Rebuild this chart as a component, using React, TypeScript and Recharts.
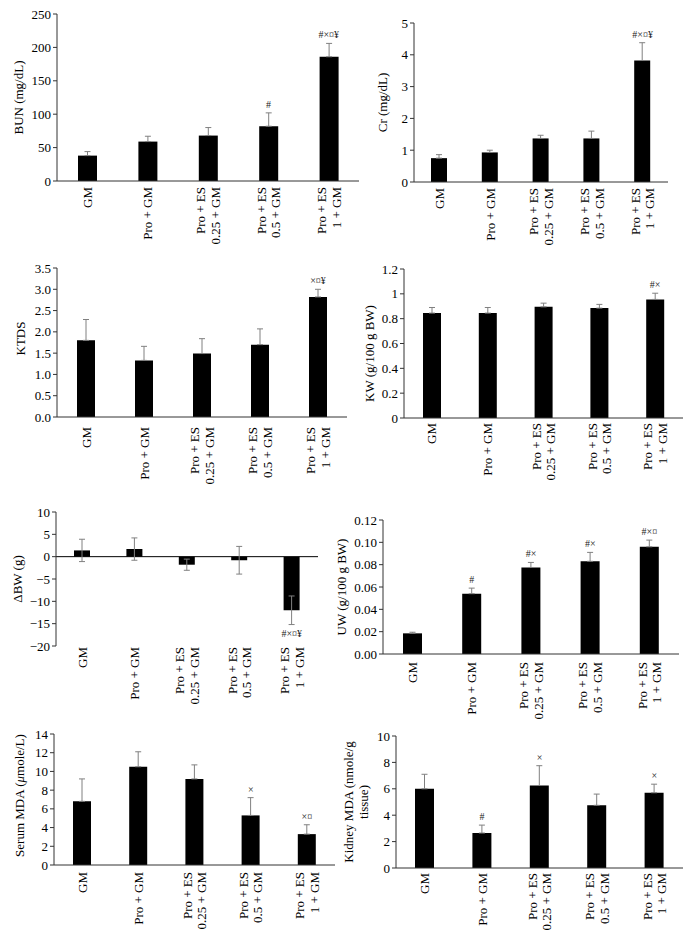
import { Bar, BarChart, ErrorBar, ReferenceDot, ReferenceLine, XAxis, YAxis } from "recharts";

const FONT = "'Liberation Serif', 'Times New Roman', serif";
const AXIS = "#333";
const WHISKER = "#808080";

const categories = ["GM", "Pro + GM", "Pro + ES\n0.25 + GM", "Pro + ES\n0.5 + GM", "Pro + ES\n1 + GM"];

const bunMean = [38, 59, 68, 82, 186];
const bunErr = [6, 8, 12, 20, 20];
const bunMarks = ["", "", "", "#", "#×¤¥"];

const crMean = [0.75, 0.93, 1.37, 1.37, 3.82];
const crErr = [0.11, 0.07, 0.1, 0.23, 0.56];
const crMarks = ["", "", "", "", "#×¤¥"];

const ktdsMean = [1.8, 1.33, 1.49, 1.7, 2.82];
const ktdsErr = [0.49, 0.33, 0.35, 0.37, 0.18];
const ktdsMarks = ["", "", "", "", "×¤¥"];

const kwMean = [0.845, 0.845, 0.895, 0.885, 0.955];
const kwErr = [0.045, 0.045, 0.03, 0.03, 0.05];
const kwMarks = ["", "", "", "", "#×"];

const bwMean = [1.4, 1.7, -1.8, -0.8, -12];
const bwErr = [2.5, 2.5, 1.25, 3.1, 3.2];
const bwMarks = ["", "", "", "", "#×¤¥"];

const uwMean = [0.0185, 0.054, 0.0775, 0.083, 0.096];
const uwErr = [0.001, 0.005, 0.0045, 0.008, 0.006];
const uwMarks = ["", "#", "#×", "#×", "#×¤"];

const serumMean = [6.8, 10.5, 9.2, 5.3, 3.3];
const serumErr = [2.4, 1.6, 1.5, 1.9, 1.0];
const serumMarks = ["", "", "", "×", "×¤"];

const kidneyMean = [6.0, 2.65, 6.25, 4.75, 5.7];
const kidneyErr = [1.1, 0.6, 1.5, 0.85, 0.65];
const kidneyMarks = ["", "#", "×", "", "×"];

const bunTicks = [0, 50, 100, 150, 200, 250];
const crTicks = [0, 1, 2, 3, 4, 5];
const ktdsTicks = [0, 0.5, 1, 1.5, 2, 2.5, 3, 3.5];
const kwTicks = [0, 0.2, 0.4, 0.6, 0.8, 1, 1.2];
const bwTicks = [-20, -15, -10, -5, 0, 5, 10];
const uwTicks = [0, 0.02, 0.04, 0.06, 0.08, 0.1, 0.12];
const serumTicks = [0, 2, 4, 6, 8, 10, 12, 14];
const kidneyTicks = [0, 2, 4, 6, 8, 10];

interface PanelSpec {
  box: [number, number, number, number];
  plot: [number, number, number, number];
  mean: number[];
  err: number[];
  marks: string[];
  both?: boolean;
  ticks: number[];
  fmt?: (v: number) => string;
  title: string[];
  titleX: number;
  titleDy?: number;
  barSize: number;
  gap: number;
}

const panels: PanelSpec[] = [
  { box: [0, 0, 362, 252], plot: [57, 14, 359, 181], mean: bunMean, err: bunErr, marks: bunMarks, ticks: bunTicks, title: ["BUN (mg/dL)"], titleX: 18, barSize: 19, gap: 6 },
  { box: [346, 0, 346, 252], plot: [414, 23, 668, 182], mean: crMean, err: crErr, marks: crMarks, ticks: crTicks, title: ["Cr (mg/dL)"], titleX: 382, barSize: 16, gap: 6 },
  { box: [0, 252, 350, 250], plot: [57, 268, 347, 417], mean: ktdsMean, err: ktdsErr, marks: ktdsMarks, ticks: ktdsTicks, fmt: (v) => v.toFixed(1), title: ["KTDS"], titleX: 20, titleDy: -4, barSize: 18, gap: 10 },
  { box: [346, 252, 346, 250], plot: [404, 269, 683, 418], mean: kwMean, err: kwErr, marks: kwMarks, ticks: kwTicks, title: ["KW (g/100 g BW)"], titleX: 369, titleDy: 10, barSize: 18, gap: 5 },
  { box: [0, 500, 330, 225], plot: [56, 512, 318, 646], mean: bwMean, err: bwErr, marks: bwMarks, both: true, ticks: bwTicks, fmt: (v) => String(v).replace("-", "\u2212"), title: ["\u0394BW (g)"], titleX: 17, barSize: 16, gap: 1 },
  { box: [330, 500, 362, 225], plot: [383, 520, 679, 654], mean: uwMean, err: uwErr, marks: uwMarks, ticks: uwTicks, fmt: (v) => v.toFixed(2), title: ["UW (g/100 g BW)"], titleX: 341, barSize: 19, gap: 8 },
  { box: [0, 725, 346, 215], plot: [54, 734, 335, 865], mean: serumMean, err: serumErr, marks: serumMarks, ticks: serumTicks, title: ["Serum MDA (μmole/L)"], titleX: 19, titleDy: -4, barSize: 18, gap: 7 },
  { box: [330, 725, 362, 215], plot: [396, 736, 683, 868], mean: kidneyMean, err: kidneyErr, marks: kidneyMarks, ticks: kidneyTicks, title: ["Kidney MDA (nmole/g", "tissue)"], titleX: 356, barSize: 19, gap: 5 },
];

function CatTick(props: any) {
  const { x, y, payload, gap } = props;
  const lines = String(payload.value).split("\n");
  const lh = 14.5;
  return (
    <g transform={`translate(${x},${y + gap})`}>
      <text transform="rotate(-90)" textAnchor="end" fontSize={13} fontFamily={FONT} fill="#000">
        {lines.map((l, i) => (
          <tspan key={i} x={0} dy={i === 0 ? -((lines.length - 1) / 2) * lh + 4.5 : lh}>
            {l}
          </tspan>
        ))}
      </text>
    </g>
  );
}

function Title({ vb, lines, x, dy }: any) {
  const cy = vb.y + vb.height / 2 + dy;
  const lh = 15;
  return (
    <text transform={`translate(${x},${cy}) rotate(-90)`} textAnchor="middle" fontSize={13} fontFamily={FONT} fill="#000">
      {lines.map((l: string, i: number) => (
        <tspan key={i} x={0} dy={i === 0 ? -((lines.length - 1) / 2) * lh + 4.5 : lh}>
          {l.split(/(μ)/).map((seg, j) =>
            seg === "μ" ? (
              <tspan key={j} fontStyle="italic">μ</tspan>
            ) : (
              seg
            )
          )}
        </tspan>
      ))}
    </text>
  );
}

// significance marks sit just above (or below, for negative bars) the whisker end
function Mark({ viewBox, text, below }: any) {
  const cx = viewBox.x + viewBox.width / 2;
  const cy = viewBox.y + viewBox.height / 2;
  return (
    <text x={cx} y={below ? cy + 12 : cy - 5} textAnchor="middle" fontSize={10} fontFamily={FONT} fill="#222">
      {text}
    </text>
  );
}

function Panel({ s }: { s: PanelSpec }) {
  const [left, top, width, height] = s.box;
  const [x0, y0, x1, y1] = s.plot;
  const rows = categories.map((name, i) => ({
    name,
    mean: s.mean[i],
    err: s.both ? s.err[i] : [0, s.err[i]],
    tip: s.mean[i] + (s.mean[i] < 0 ? -s.err[i] : s.err[i]),
    mark: s.marks[i],
  }));
  const lo = s.ticks[0];
  const hi = s.ticks[s.ticks.length - 1];
  return (
    <div style={{ position: "absolute", left, top }}>
      <BarChart
        width={width}
        height={height}
        data={rows}
        margin={{ top: y0 - top, right: left + width - x1, bottom: 0, left: 0 }}
      >
        <XAxis
          dataKey="name"
          height={top + height - y1}
          interval={0}
          tickLine={false}
          tickSize={0}
          tickMargin={0}
          axisLine={lo < 0 ? false : { stroke: AXIS }}
          tick={(p: any) => <CatTick {...p} gap={s.gap} />}
        />
        <YAxis
          type="number"
          width={x0 - left}
          domain={[lo, hi]}
          ticks={s.ticks}
          interval={0}
          tickFormatter={s.fmt}
          tickSize={4}
          tickMargin={2}
          axisLine={{ stroke: AXIS }}
          tickLine={{ stroke: AXIS }}
          tick={{ fontSize: 13, fontFamily: FONT, fill: "#000" }}
          label={{
            content: (p: any) => <Title vb={p.viewBox} lines={s.title} x={s.titleX - left} dy={s.titleDy ?? 0} />,
          }}
        />
        {lo < 0 && <ReferenceLine y={0} stroke="#000" strokeWidth={1} />}
        <Bar dataKey="mean" fill="#000" barSize={s.barSize} isAnimationActive={false}>
          <ErrorBar dataKey="err" width={3} stroke={WHISKER} strokeWidth={1} direction="y" isAnimationActive={false} />
        </Bar>
        {rows
          .filter((r) => r.mark)
          .map((r) => (
            <ReferenceDot
              key={r.name}
              x={r.name}
              y={r.tip}
              r={0}
              fill="none"
              stroke="none"
              label={{ content: (p: any) => <Mark viewBox={p.viewBox} text={r.mark} below={r.tip < 0} /> }}
            />
          ))}
      </BarChart>
    </div>
  );
}

export default function App() {
  return (
    <div style={{ position: "absolute", left: 0, top: 0, width: 692, height: 940, background: "#fff" }}>
      {panels.map((s, i) => (
        <Panel key={i} s={s} />
      ))}
    </div>
  );
}
